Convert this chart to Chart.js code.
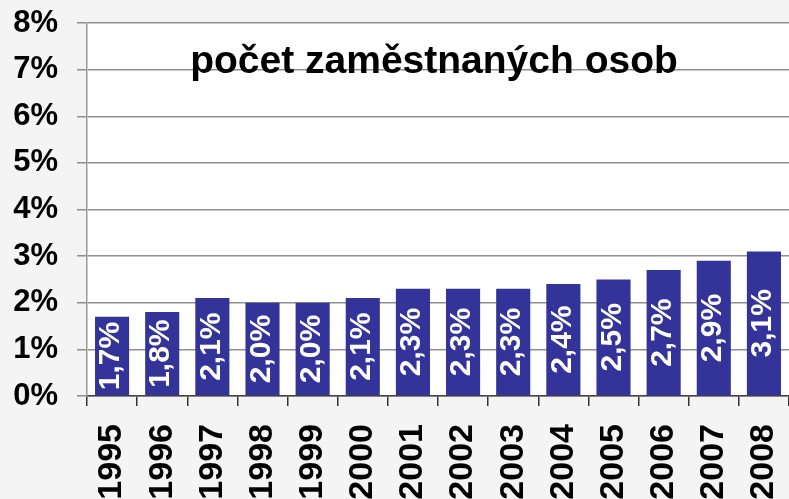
<!DOCTYPE html>
<html>
<head>
<meta charset="utf-8">
<script src="https://cdn.jsdelivr.net/npm/chart.js@4/dist/chart.umd.min.js"></script>
<style>
  html, body { margin: 0; padding: 0; background: #f4f4f4; }
  #wrap { width: 789px; height: 499px; }
</style>
</head>
<body>
<div id="wrap"><canvas id="c" width="789" height="499"></canvas></div>
<script>
// Annual growth of the number of employed persons (%)
const years = ['1995','1996','1997','1998','1999','2000','2001','2002','2003','2004','2005','2006','2007','2008'];
const employed = [1.7, 1.8, 2.1, 2.0, 2.0, 2.1, 2.3, 2.3, 2.3, 2.4, 2.5, 2.7, 2.9, 3.1];
const chartTitle = 'počet zaměstnaných osob';

const FONT = '"Liberation Sans", Arial, sans-serif';

// page background and white plot area
const backdrop = {
  id: 'backdrop',
  beforeDraw(chart) {
    const { ctx, chartArea: a } = chart;
    ctx.save();
    ctx.fillStyle = '#f4f4f4';
    ctx.fillRect(0, 0, chart.width, chart.height);
    ctx.fillStyle = '#ffffff';
    ctx.fillRect(a.left, a.top, a.right - a.left, a.bottom - a.top);
    ctx.restore();
  }
};

// vertical value labels centred in the bars, and the caption inside the plot
const labels = {
  id: 'labels',
  afterDatasetsDraw(chart) {
    const { ctx, chartArea: a } = chart;
    const meta = chart.getDatasetMeta(0);
    ctx.save();
    ctx.fillStyle = '#ffffff';
    ctx.font = 'bold 30px ' + FONT;
    ctx.textAlign = 'center';
    ctx.textBaseline = 'middle';
    meta.data.forEach((bar, i) => {
      const txt = employed[i].toFixed(1).replace('.', ',') + '%';
      ctx.save();
      ctx.translate(bar.x - 1, (bar.y + bar.base) / 2);
      ctx.rotate(-Math.PI / 2);
      ctx.fillText(txt, 0, 0);
      ctx.restore();
    });
    ctx.fillStyle = '#000000';
    ctx.font = 'bold 39px ' + FONT;
    ctx.textAlign = 'center';
    ctx.textBaseline = 'alphabetic';
    ctx.fillText(chartTitle, 434, a.top + 50);
    ctx.restore();
  }
};

new Chart(document.getElementById('c'), {
  type: 'bar',
  data: {
    labels: years,
    datasets: [{
      data: employed,
      backgroundColor: '#333399',
      borderWidth: 0,
      categoryPercentage: 1,
      barPercentage: 0.68
    }]
  },
  options: {
    responsive: false,
    animation: false,
    layout: { padding: { top: 23, right: 0, left: 0, bottom: 0 } },
    plugins: {
      legend: { display: false },
      tooltip: { enabled: false },
      title: { display: false }
    },
    scales: {
      x: {
        grid: {
          offset: true,
          drawOnChartArea: false,
          tickLength: 10,
          color: '#333333',
          lineWidth: 1.5
        },
        border: { color: '#444444', width: 1.5 },
        ticks: {
          minRotation: 90,
          maxRotation: 90,
          color: '#000000',
          padding: 18,
          font: { family: FONT, size: 34, weight: 'bold' }
        },
        afterFit(scale) {
          scale.height = 103;
          scale.paddingLeft = 0;
          scale.paddingRight = 0;
        }
      },
      y: {
        min: 0,
        max: 8,
        ticks: {
          stepSize: 1,
          color: '#000000',
          padding: 19,
          font: { family: FONT, size: 31, weight: 'bold' },
          callback: v => v + '%'
        },
        grid: {
          color: '#8f8f8f',
          lineWidth: 1.5,
          tickLength: 10
        },
        border: { color: '#999999', width: 1.5 },
        afterFit(scale) {
          scale.width = 87;
          scale.paddingTop = 0;
          scale.paddingBottom = 0;
        }
      }
    }
  },
  plugins: [backdrop, labels]
});
</script>
</body>
</html>
